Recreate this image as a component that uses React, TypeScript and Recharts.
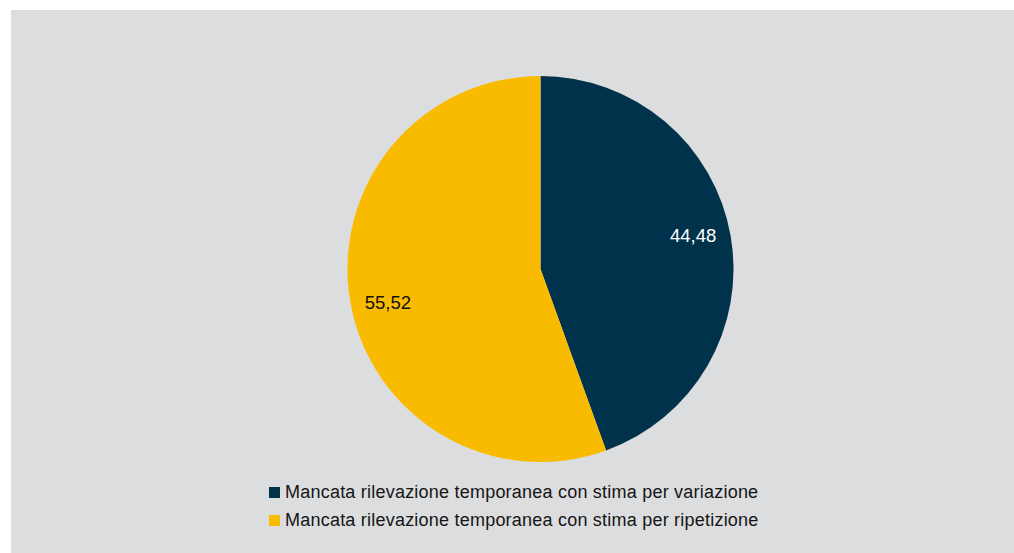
import { PieChart, Pie, Cell, Legend } from "recharts";

const categories = [
  "Mancata rilevazione temporanea con stima per variazione",
  "Mancata rilevazione temporanea con stima per ripetizione",
];
const values = [44.48, 55.52];
const colors = ["#00324b", "#f9bb00"];
const labelColors = ["#ffffff", "#111111"];

const data = categories.map((name, i) => ({ name, value: values[i] }));

const RADIAN = Math.PI / 180;

const renderLabel = (props: any) => {
  const { cx, cy, midAngle, outerRadius, index, value } = props;
  const r = outerRadius * 0.81;
  const a = (midAngle + 2.6) * RADIAN;
  const x = cx + r * Math.cos(-a);
  const y = cy + r * Math.sin(-a);
  return (
    <text
      x={x}
      y={y}
      fill={labelColors[index]}
      textAnchor="middle"
      dominantBaseline="central"
      fontSize={18.5}
      fontFamily="Liberation Sans, Arial, sans-serif"
    >
      {value.toFixed(2).replace(".", ",")}
    </text>
  );
};

const renderLegend = () => (
  <div style={{ fontFamily: "Liberation Sans, Arial, sans-serif" }}>
    {categories.map((c, i) => (
      <div
        key={c}
        style={{
          display: "flex",
          alignItems: "center",
          height: 27.5,
          fontSize: 18,
          letterSpacing: 0.22,
          color: "#151515",
          whiteSpace: "nowrap",
        }}
      >
        <span
          style={{
            width: 11,
            height: 11,
            background: colors[i],
            marginRight: 5,
            display: "inline-block",
            flexShrink: 0,
          }}
        />
        {c}
      </div>
    ))}
  </div>
);

export default function App() {
  return (
    <div
      style={{
        position: "fixed",
        left: 11,
        top: 10,
        width: 1003,
        height: 543,
        background: "#dcdddf",
      }}
    >
      <PieChart width={1003} height={543}>
        {/* PIE */}
        <Pie
          data={data}
          dataKey="value"
          nameKey="name"
          cx={524.5}
          cy={254}
          outerRadius={193}
          startAngle={90}
          endAngle={-270}
          stroke="none"
          label={renderLabel}
          labelLine={false}
          isAnimationActive={false}
        >
          {data.map((d, i) => (
            <Cell key={d.name} fill={colors[i]} />
          ))}
        </Pie>
        {/* LEGEND */}
        <Legend
          content={renderLegend}
          wrapperStyle={{ left: 258, top: 469, width: "auto" }}
        />
      </PieChart>
    </div>
  );
}
